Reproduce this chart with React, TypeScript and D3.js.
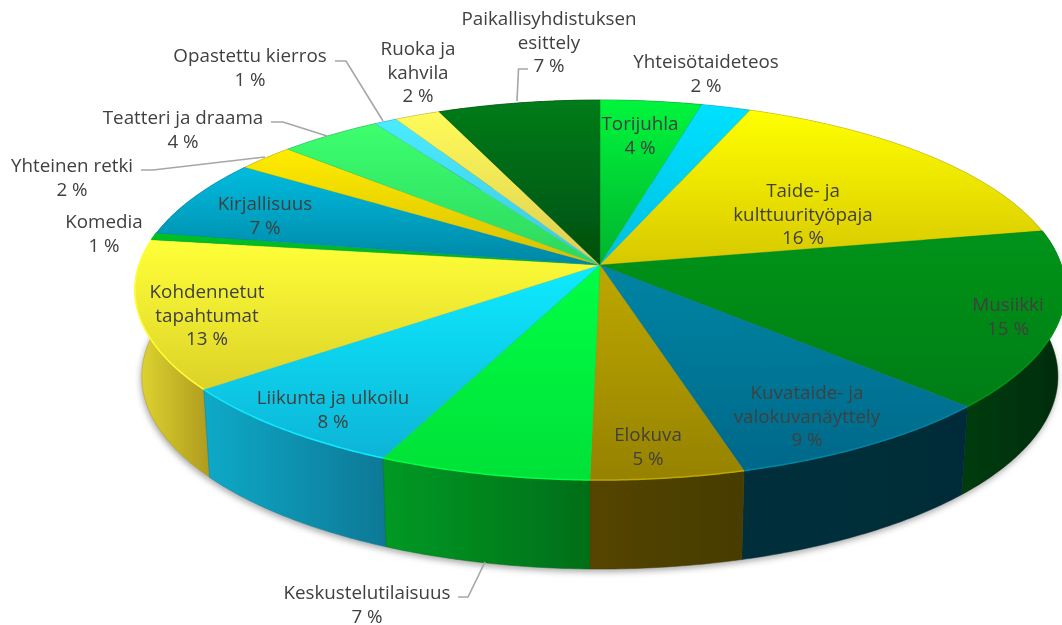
import React from "react";
import * as d3 from "d3";

// ---- data ----
const categories = [
  "Torijuhla", "Yhteisötaideteos", "Taide- ja kulttuurityöpaja", "Musiikki",
  "Kuvataide- ja valokuvanäyttely", "Elokuva", "Keskustelutilaisuus", "Liikunta ja ulkoilu",
  "Kohdennetut tapahtumat", "Komedia", "Kirjallisuus", "Yhteinen retki",
  "Teatteri ja draama", "Opastettu kierros", "Ruoka ja kahvila", "Paikallisyhdistuksen esittely",
];
const sliceShares = [4.0, 1.95, 16.05, 15.1, 8.5, 4.7, 6.5, 7.7, 12.7, 0.6, 6.7, 2.3, 4.1, 0.9, 1.8, 6.4];
const percentLabels = [4, 2, 16, 15, 9, 5, 7, 8, 13, 1, 7, 2, 4, 1, 2, 7];

// ---- colours ----
const topLight = ["#00f53c", "#00e1ff", "#ffff00", "#00941a", "#0085a3", "#bda800", "#00ff46", "#10ebff", "#ffff38", "#00c228", "#00bcdf", "#ffec00", "#3cff6e", "#4bebff", "#fffb5a", "#007c1a"];
const topDark = ["#00b42d", "#00bee1", "#d7c800", "#007d16", "#00688a", "#968200", "#00e137", "#0ab4d7", "#dcd228", "#00b023", "#0087a5", "#d7be00", "#2dd75f", "#3cc8e1", "#dccd50", "#004f0f"];
const sideLeft = ["#00a02a", "#00a0c0", "#b0a000", "#003c0a", "#002f3b", "#554500", "#009a24", "#10aac8", "#e1d732", "#009020", "#007a96", "#b0a000", "#20a050", "#30a0c0", "#b0a040", "#004010"];
const sideRight = ["#008020", "#0080a0", "#908000", "#002c08", "#002c38", "#463c00", "#006e18", "#0a7896", "#af9b1e", "#007018", "#006078", "#908000", "#108040", "#2080a0", "#908030", "#003008"];

const labelLines = [
  ["Torijuhla"], ["Yhteisötaideteos"], ["Taide- ja", "kulttuurityöpaja"], ["Musiikki"],
  ["Kuvataide- ja", "valokuvanäyttely"], ["Elokuva"], ["Keskustelutilaisuus"], ["Liikunta ja ulkoilu"],
  ["Kohdennetut", "tapahtumat"], ["Komedia"], ["Kirjallisuus"], ["Yhteinen retki"],
  ["Teatteri ja draama"], ["Opastettu kierros"], ["Ruoka ja", "kahvila"], ["Paikallisyhdistuksen", "esittely"],
];

// label layout: centre x and the centre y of the first line
const labelX = [640, 706, 803, 1008, 807, 648, 367, 333, 207, 104, 265, 72, 183, 250, 418, 549];
const labelY = [123, 61, 190, 304, 392, 434, 592, 397, 291, 221, 203, 165, 117, 55, 48, 18];

const leaderLines: [number, number][][] = [
  [[528, 69], [518.5, 69], [517, 101]],
  [[335, 61], [346, 61], [383, 121]],
  [[271, 122], [283, 122], [327, 136]],
  [[141, 170], [153, 170], [265, 157]],
  [[458, 597], [468, 597], [485, 562]],
];

// ---- perspective of the disc ----
const W = 1062, H = 625;
const cx = 600, cy = 265, R = 461, S = 186.7, K = 0.1316;
const project = (a: number): [number, number] => {
  const u = Math.sin(a), v = -Math.cos(a), d = 1 - K * v;
  return [cx + (R * u) / d, cy + (S * v) / d];
};
const projectBottom = (a: number): [number, number] => {
  const [x, y] = project(a);
  const v = -Math.cos(a);
  return [cx - 10 + (x - cx + 10) * 0.985, y + 86 + 3 * v];
};
const arcPts = (f: (a: number) => [number, number], a0: number, a1: number) => {
  const n = Math.max(2, Math.ceil((a1 - a0) / 0.01));
  return d3.range(n + 1).map((i) => f(a0 + ((a1 - a0) * i) / n));
};
const line = d3.line<[number, number]>().x((p) => p[0]).y((p) => p[1]);

const arcs = d3.pie<number>().sort(null).value((d) => d)(sliceShares);

export default function App() {
  const fontSize = 18.8;
  const lineStep = 23.5;
  const sideOrder = arcs
    .map((a, i) => ({ a, i }))
    .sort((p, q) => Math.cos((q.a.startAngle + q.a.endAngle) / 2) - Math.cos((p.a.startAngle + p.a.endAngle) / 2));

  return (
    <svg width={W} height={H} viewBox={`0 0 ${W} ${H}`} style={{ position: "absolute", left: 0, top: 0, display: "block", background: "#fff" }}>
      <defs>
        <filter id="shadow" x="-10%" y="-10%" width="120%" height="120%"><feGaussianBlur stdDeviation="3" /></filter>
        <filter id="soft" x="-2%" y="-2%" width="104%" height="104%"><feGaussianBlur stdDeviation="0.5" /></filter>
        <filter id="softText" x="-5%" y="-5%" width="110%" height="110%"><feGaussianBlur stdDeviation="0.35" /></filter>
        <clipPath id="labelClip"><rect x={10} y={0} width={W} height={H} /></clipPath>
        {arcs.map((_, i) => (
          <React.Fragment key={i}>
            <linearGradient id={`top${i}`} x1="0" y1="0" x2="0" y2="1">
              <stop offset="0" stopColor={topLight[i]} />
              <stop offset="1" stopColor={topDark[i]} />
            </linearGradient>
            <linearGradient id={`side${i}`} x1="0" y1="0" x2="1" y2="0">
              <stop offset="0" stopColor={sideLeft[i]} />
              <stop offset="1" stopColor={sideRight[i]} />
            </linearGradient>
          </React.Fragment>
        ))}
      </defs>

      <path
        d={line(arcPts(projectBottom, 0, 2 * Math.PI))! + "Z"}
        transform="translate(-1 3)"
        fill="#555"
        opacity={0.5}
        filter="url(#shadow)"
      />

      <g filter="url(#soft)">
        {sideOrder.map(({ a, i }) => {
          const t = arcPts(project, a.startAngle, a.endAngle);
          const b = arcPts(projectBottom, a.startAngle, a.endAngle).reverse();
          return <path key={i} d={line([...t, ...b])! + "Z"} fill={`url(#side${i})`} stroke={sideRight[i]} strokeWidth={0.5} />;
        })}
        {arcs.map((a, i) => {
          const t = arcPts(project, a.startAngle, a.endAngle);
          return <path key={i} d={line([[cx, cy], ...t])! + "Z"} fill={`url(#top${i})`} stroke={topDark[i]} strokeWidth={0.3} />;
        })}
        {arcs.map((a, i) =>
          Math.cos((a.startAngle + a.endAngle) / 2) < 0.2 ? (
            <path key={i} d={line(arcPts(project, a.startAngle, a.endAngle))!} fill="none" stroke={topLight[i]} strokeWidth={1.5} />
          ) : null
        )}
      </g>

      <g fill="none" stroke="#a6a6a6" strokeWidth={1.6}>
        {leaderLines.map((l, i) => <path key={i} d={line(l)!} />)}
      </g>

      <g clipPath="url(#labelClip)">
        <g
          filter="url(#softText)"
          fontFamily="'Open Sans', 'Noto Sans', sans-serif"
          fontSize={fontSize}
          fill="#404040"
          textAnchor="middle"
          dominantBaseline="central"
        >
          {categories.map((c, i) => (
            <text key={c} x={labelX[i]} y={labelY[i]}>
              {[...labelLines[i], `${percentLabels[i]} %`].map((t, j) => (
                <tspan key={j} x={labelX[i]} y={labelY[i] + j * lineStep}>{t}</tspan>
              ))}
            </text>
          ))}
        </g>
      </g>
    </svg>
  );
}
